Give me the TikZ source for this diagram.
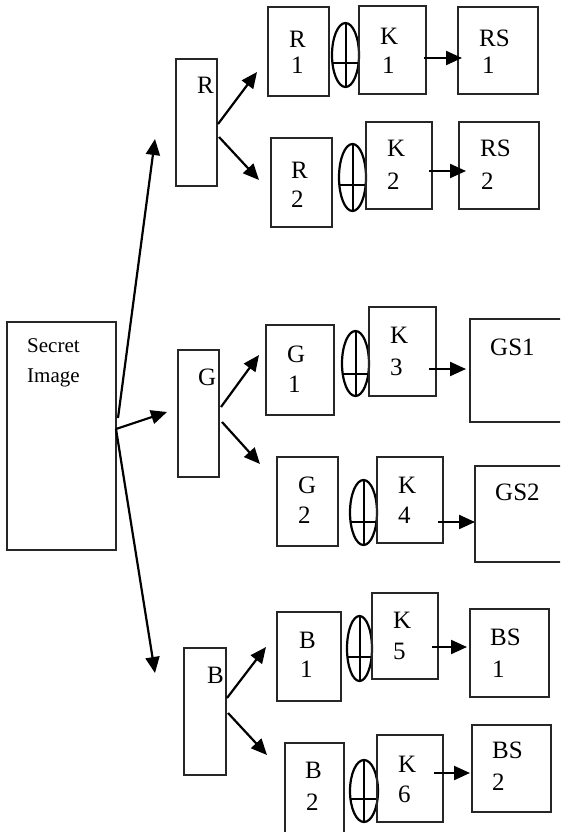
\documentclass[tikz,border=0pt]{standalone}
\usepackage{fontspec}
\setmainfont{Liberation Serif}
\usetikzlibrary{shapes.geometric,arrows.meta,calc}

\tikzset{
  box/.style={draw=black!85, line width=1.1pt, inner sep=0pt},
  xorsym/.style={ellipse, draw=black, line width=2.2pt, inner sep=0pt,
    path picture={
      \draw[line width=2pt] (path picture bounding box.north) -- (path picture bounding box.south);
      \draw[line width=2pt] ([yshift=-#1]path picture bounding box.west) -- ([yshift=-#1]path picture bounding box.east);
    }},
  lbl/.style={anchor=base west, inner sep=0pt, font=\fontsize{25}{28}\selectfont},
  lblsmall/.style={anchor=base west, inner sep=0pt, font=\fontsize{21}{24}\selectfont},
  conn/.style={line width=2.2pt, -{Triangle[length=16pt,width=14pt]}},
}

% rectangle node from corner coordinates: name, x1, y1, x2, y2
\newcommand{\rbox}[5]{%
  \node[box, minimum width={(#4-#2)*1pt}, minimum height={(#5-#3)*1pt}]
    (#1) at ({(#2+#4)/2},{(#3+#5)/2}) {};}
% xor symbol: name, cx, cy, rx, ry, offset of the bar
\newcommand{\xsym}[6]{%
  \node[xorsym=#6, minimum width={2*#4*1pt}, minimum height={2*#5*1pt}]
    (#1) at (#2,#3) {};}

\begin{document}
\begin{tikzpicture}[x=1pt,y=-1pt]
\useasboundingbox (0,0) rectangle (560,832);
\clip (0,0) rectangle (560,832);
\fill[white] (0,0) rectangle (560,832);

% source image
\rbox{sec}{7}{322}{116}{550}
\node[lblsmall] (secA) at (27,352) {Secret};
\node[lblsmall] (secB) at (27,382) {Image};

% colour planes
\rbox{R}{176}{59}{217}{186}
\rbox{G}{178}{350}{219}{477}
\rbox{B}{184}{648}{226}{775}
\node[lbl] (tR) at (197,94) {R};
\node[lbl] (tG) at (198,385) {G};
\node[lbl] (tB) at (207,683) {B};

% halves of each plane
\rbox{R1}{268}{7}{329}{96}
\rbox{R2}{271}{138}{332}{227}
\rbox{G1}{266}{325}{334}{415}
\rbox{G2}{277}{457}{338}{546}
\rbox{B1}{277}{612}{341}{701}
\rbox{B2}{285}{743}{344}{850}
\node[lbl] (tR1a) at (289,48) {R};  \node[lbl] (tR1b) at (291,74) {1};
\node[lbl] (tR2a) at (291,178) {R}; \node[lbl] (tR2b) at (291,207) {2};
\node[lbl] (tG1a) at (287,362) {G}; \node[lbl] (tG1b) at (288,392) {1};
\node[lbl] (tG2a) at (298,493) {G}; \node[lbl] (tG2b) at (298,523) {2};
\node[lbl] (tB1a) at (299,648) {B}; \node[lbl] (tB1b) at (300,677) {1};
\node[lbl] (tB2a) at (305,778) {B}; \node[lbl] (tB2b) at (306,810) {2};

% xor operators
\xsym{x1}{345.5}{55}{13.5}{32}{8pt}
\xsym{x2}{352.5}{177.5}{13.5}{33.5}{7.5pt}
\xsym{x3}{355.5}{363.5}{13.5}{32.5}{10.5pt}
\xsym{x4}{363.5}{512.5}{13.5}{32.5}{9.5pt}
\xsym{x5}{359.5}{648.5}{12.5}{32.5}{8.5pt}
\xsym{x6}{364}{791}{14}{31}{8pt}

% keys
\rbox{K1}{359}{6}{426}{94}
\rbox{K2}{366}{122}{432}{209}
\rbox{K3}{369}{307}{436}{396}
\rbox{K4}{377}{457}{443}{543}
\rbox{K5}{372}{593}{438}{679}
\rbox{K6}{377}{735}{443}{822}
\node[lbl] (tK1a) at (380,45) {K};  \node[lbl] (tK1b) at (382,74) {1};
\node[lbl] (tK2a) at (387,157) {K}; \node[lbl] (tK2b) at (387,189) {2};
\node[lbl] (tK3a) at (390,343) {K}; \node[lbl] (tK3b) at (390,375) {3};
\node[lbl] (tK4a) at (398,493) {K}; \node[lbl] (tK4b) at (398,523) {4};
\node[lbl] (tK5a) at (393,628) {K}; \node[lbl] (tK5b) at (393,659) {5};
\node[lbl] (tK6a) at (398,772) {K}; \node[lbl] (tK6b) at (398,802) {6};

% shares
\rbox{RS1}{458}{7}{538}{94}
\rbox{RS2}{459}{122}{539}{209}
\rbox{GS1}{470}{319}{600}{422}
\rbox{GS2}{475}{466}{600}{562}
\rbox{BS1}{470}{609}{549}{697}
\rbox{BS2}{472}{725}{551}{812}
\node[lbl] (tRS1a) at (479,47) {RS};  \node[lbl] (tRS1b) at (482,74) {1};
\node[lbl] (tRS2a) at (480,157) {RS}; \node[lbl] (tRS2b) at (481,189) {2};
\node[lbl] (tGS1) at (490,355) {GS1};
\node[lbl] (tGS2) at (495,500) {GS2};
\node[lbl] (tBS1a) at (490,645) {BS}; \node[lbl] (tBS1b) at (492,677) {1};
\node[lbl] (tBS2a) at (492,758) {BS}; \node[lbl] (tBS2b) at (492,790) {2};

% split of the source image
\coordinate (s0) at (118,418);
\coordinate (s1) at (116,429);
\coordinate (aR) at (155,139);
\coordinate (aG) at (167,412);
\coordinate (aB) at (155,673);
\draw[conn] (s0) -- (aR);
\draw[conn] (s1) -- (aG);
\draw[conn] (s1) -- (aB);

% split of each plane
\coordinate (r0) at (218,124); \coordinate (r1) at (257,72);
\coordinate (r2) at (219,137); \coordinate (r3) at (259,180);
\coordinate (g0) at (221,407); \coordinate (g1) at (259,355);
\coordinate (g2) at (222,422); \coordinate (g3) at (260,464);
\coordinate (b0) at (227,698); \coordinate (b1) at (266,647);
\coordinate (b2) at (228,713); \coordinate (b3) at (267,755);
\draw[conn] (r0) -- (r1); \draw[conn] (r2) -- (r3);
\draw[conn] (g0) -- (g1); \draw[conn] (g2) -- (g3);
\draw[conn] (b0) -- (b1); \draw[conn] (b2) -- (b3);

% key to share
\coordinate (k1s) at (424,58);  \coordinate (k1e) at (462,58);
\coordinate (k2s) at (429,171); \coordinate (k2e) at (466,171);
\coordinate (k3s) at (429,369); \coordinate (k3e) at (466,369);
\coordinate (k4s) at (438,522); \coordinate (k4e) at (475,522);
\coordinate (k5s) at (432,647); \coordinate (k5e) at (467,647);
\coordinate (k6s) at (434,773); \coordinate (k6e) at (470,773);
\draw[conn] (k1s) -- (k1e);
\draw[conn] (k2s) -- (k2e);
\draw[conn] (k3s) -- (k3e);
\draw[conn] (k4s) -- (k4e);
\draw[conn] (k5s) -- (k5e);
\draw[conn] (k6s) -- (k6e);
\end{tikzpicture}
\end{document}
